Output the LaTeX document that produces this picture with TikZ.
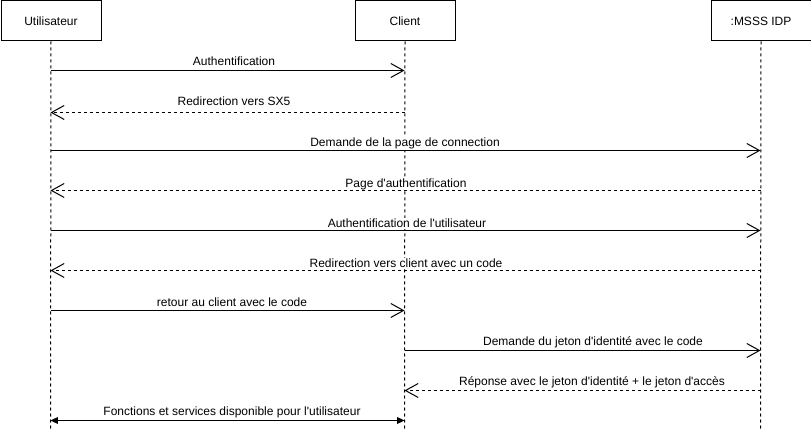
\documentclass[tikz,border=0pt]{standalone}
\usepackage{fontspec}
\setmainfont{Liberation Sans}[Ligatures=TeXOff]
\usetikzlibrary{arrows.meta}
\begin{document}
\begin{tikzpicture}[x=0.75pt,y=-0.75pt,
  font=\fontsize{9pt}{11pt}\selectfont,
  head/.style={draw,line width=0.75pt,minimum width=75pt,minimum height=30pt,inner sep=0pt,anchor=north west},
  life/.style={line width=0.75pt,dash pattern=on 2.25pt off 2.25pt},
  msg/.style={line width=0.75pt,-{Straight Barb[length=9.5pt,width=10.5pt,line width=0.75pt]}},
  ret/.style={msg,dash pattern=on 2.25pt off 2.25pt},
  both/.style={line width=0.75pt,{Triangle[length=5.5pt,width=5pt]}-{Triangle[length=5.5pt,width=5pt]}},
  lbl/.style={fill=white,inner xsep=0.5pt,inner ysep=0.75pt,anchor=base}]
\useasboundingbox (0,0) rectangle (811,431);
% heads
\node[head] (U) at (0.5,0.5) {Utilisateur};
\node[head] (C) at (354.5,0.5) {Client};
\node[head] (I) at (710.5,0.5) {:MSSS IDP};
% lifeline ends
\coordinate (Ue) at (50.5,431);
\coordinate (Ce) at (404.5,431);
\coordinate (Ie) at (760.5,431);
\draw[life] (U.south) -- (Ue);
\draw[life] (C.south) -- (Ce);
\draw[life] (I.south) -- (Ie);
% message anchor points
\foreach \y in {70,112,150,190,230,270,310,350,390,420}{
  \coordinate (u\y) at (50.5,\y.5);
  \coordinate (c\y) at (404.5,\y.5);
  \coordinate (i\y) at (760.5,\y.5);
}
% labels (white background hides the lifelines)
\node[lbl] (l1) at (234,65.5) {Authentification};
\node[lbl] (l2) at (234,105.5) {Redirection vers SX5};
\node[lbl] (l3) at (405,146.5) {Demande de la page de connection};
\node[lbl] (l4) at (406,187.5) {Page d'authentification};
\node[lbl] (l5) at (407,227.5) {Authentification de l'utilisateur};
\node[lbl] (l6) at (406,267.5) {Redirection vers client avec un code};
\node[lbl] (l7) at (232,306.5) {retour au client avec le code};
\node[lbl] (l8) at (593,345.5) {Demande du jeton d'identité avec le code};
\node[lbl] (l9) at (592,385.5) {Réponse avec le jeton d'identité + le jeton d'accès};
\node[lbl] (l10) at (232,415.5) {Fonctions et services disponible pour l'utilisateur};
% messages
\draw[msg] (u70) -- (c70);
\draw[ret] (c112) -- (u112);
\draw[msg] (u150) -- (i150);
\draw[ret] (i190) -- (u190);
\draw[msg] (u230) -- (i230);
\draw[ret] (i270) -- (u270);
\draw[msg] (u310) -- (c310);
\draw[msg] (c350) -- (i350);
\draw[ret] (i390) -- (c390);
\draw[both] (u420) -- (c420);
\end{tikzpicture}
\end{document}
